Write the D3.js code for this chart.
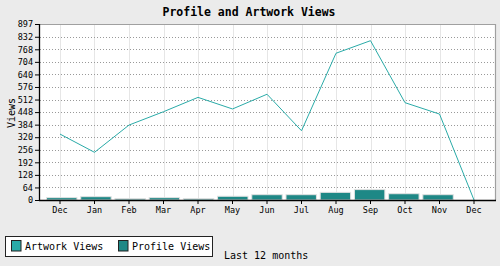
<!DOCTYPE html>
<html><head><meta charset="utf-8">
<script src="https://cdn.jsdelivr.net/npm/d3@7"></script>
<style>
html,body{margin:0;padding:0;background:#ebebeb;}
svg{display:block;font-family:"DejaVu Sans Mono",monospace;}
</style></head>
<body>
<svg id="c" width="500" height="266"></svg>
<script>
const months = ["Dec","Jan","Feb","Mar","Apr","May","Jun","Jul","Aug","Sep","Oct","Nov","Dec"];
const artworkViews = [336,243,382,450,523,464,539,353,748,812,496,438,0];
const profileViews = [12,17,7,12,7,19,27,27,39,53,32,27,0];
const yTicks = [0,64,128,192,256,320,384,448,512,576,640,704,768,832,897];

const svg = d3.select("#c");
const L=40, R=495, T=24, B=200;
const keys = months.map((m,i)=>i);
const x = d3.scaleBand().domain(keys).range([42.75,491.25]).paddingInner(0.2).paddingOuter(0.1);
const xc = i => x(i) + x.bandwidth()/2;
const xb = d3.scaleBand().domain(keys).range([42.75,491.25]).padding(0.11);
const y = d3.scaleLinear().domain([0,897]).range([B,T]);

svg.append("rect").attr("x",L).attr("y",T).attr("width",R-L).attr("height",B-T).attr("fill","#fff");

// vertical grid
svg.append("g").selectAll("line").data(keys).join("line")
  .attr("x1",d=>Math.round(xc(d))+0.5).attr("x2",d=>Math.round(xc(d))+0.5)
  .attr("y1",T).attr("y2",B).attr("stroke","#e6e6e6").attr("stroke-width",1);
// horizontal dotted grid
svg.append("g").selectAll("line").data(yTicks.slice(1,-1)).join("line")
  .attr("x1",L).attr("x2",R).attr("y1",d=>Math.round(y(d))+0.5).attr("y2",d=>Math.round(y(d))+0.5)
  .attr("stroke","#999").attr("stroke-dasharray","1,2");

// frame top/right
svg.append("path").attr("d",`M${L},${T+0.5}H${R+0.5}V${B}`).attr("fill","none").attr("stroke","#a0a0a0").attr("stroke-width",1.2);

// bars
svg.append("g").selectAll("rect").data(profileViews).join("rect")
  .attr("x",(d,i)=>xb(i)).attr("width",xb.bandwidth())
  .attr("y",d=>y(d)).attr("height",d=>B-y(d))
  .attr("fill","#1e8886").attr("stroke","#e2e2e2").attr("stroke-width",1);

// line
svg.append("path").datum(artworkViews)
  .attr("d",d3.line().x((d,i)=>xc(i)).y(d=>y(d)))
  .attr("fill","none").attr("stroke","#2aaba8").attr("stroke-width",1);

// axes
const yAxis = d3.axisLeft(y).tickValues(yTicks).tickSize(5).tickPadding(2).tickFormat(d3.format("d"));
const gy = svg.append("g").attr("transform",`translate(${L},0)`).call(yAxis);
gy.select(".domain").remove();
gy.selectAll("text").attr("font-size","8.5px").attr("font-family","DejaVu Sans Mono").attr("fill","#000");
svg.append("line").attr("x1",L-0.5).attr("x2",L-0.5).attr("y1",T).attr("y2",B+1).attr("stroke","#000").attr("stroke-width",1.3);

const xAxis = d3.axisBottom(x).tickSize(4).tickPadding(3).tickFormat(i=>months[i]);
const gx = svg.append("g").attr("transform",`translate(0,${B})`).call(xAxis);
gx.select(".domain").remove();
gx.selectAll("text").attr("font-size","8.5px").attr("font-family","DejaVu Sans Mono").attr("fill","#000");
svg.append("line").attr("x1",L-1).attr("x2",R+1).attr("y1",B+0.5).attr("y2",B+0.5).attr("stroke","#000").attr("stroke-width",1.3);

// title
svg.append("text").attr("x",249).attr("y",16).attr("text-anchor","middle")
  .attr("font-size","11.5px").attr("font-weight","bold").text("Profile and Artwork Views");
// y label
svg.append("text").attr("transform","translate(15,113) rotate(-90)").attr("text-anchor","middle")
  .attr("font-size","10px").text("Views");

// legend
const lg = svg.append("g");
lg.append("rect").attr("x",5.5).attr("y",236.5).attr("width",207).attr("height",20).attr("fill","#fff").attr("stroke","#222").attr("stroke-width",1);
const legendItems = [{name:"Artwork Views",color:"#2aaba8",x:11},{name:"Profile Views",color:"#1e8886",x:118}];
legendItems.forEach(it=>{
  lg.append("rect").attr("x",it.x+0.5).attr("y",240.5).attr("width",9.5).attr("height",10.5).attr("fill",it.color).attr("stroke","#222");
  lg.append("text").attr("x",it.x+14).attr("y",250).attr("font-size","10px").text(it.name);
});
svg.append("text").attr("x",224).attr("y",259).attr("font-size","10px").text("Last 12 months");
</script>
</body></html>
